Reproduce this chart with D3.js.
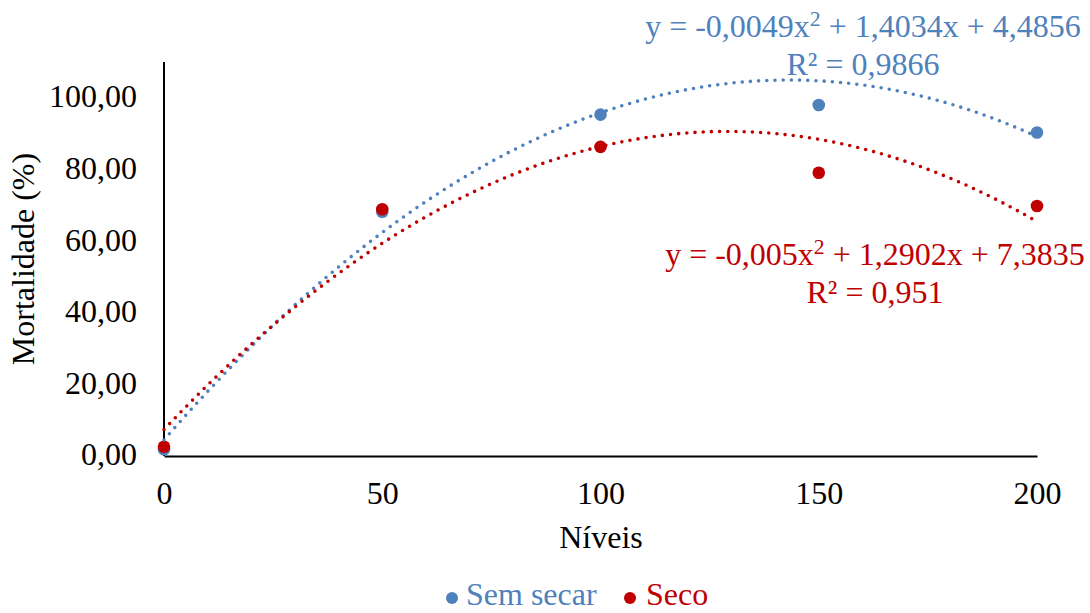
<!DOCTYPE html>
<html>
<head>
<meta charset="utf-8">
<script src="https://cdn.jsdelivr.net/npm/d3@7"></script>
<style>
  body{margin:0;background:#fff;}
  svg{display:block;}
</style>
</head>
<body>
<svg id="chart" width="1090" height="613"></svg>
<script>
// dados
var niveis = [0, 50, 100, 150, 200];
var semSecar = [1.9, 68.2, 95.3, 98.0, 90.3];
var seco = [2.6, 68.9, 86.3, 79.1, 69.8];
// coeficientes das linhas de tendencia (a*x^2 + b*x + c)
var coefSemSecar = [-0.0049, 1.4034, 4.4856];
var coefSeco = [-0.005, 1.2902, 7.3835];
var xTicks = [0, 50, 100, 150, 200];
var yTicks = [0, 20, 40, 60, 80, 100];
var seriesNames = ["Sem secar", "Seco"];

var azul = "#4f81bd";
var vermelho = "#c00000";
var fonte = "'Liberation Serif','Times New Roman',serif";
var fs = 32;

var svg = d3.select("#chart");

var x = d3.scaleLinear().domain([0, 200]).range([164, 1037]);
var y = d3.scaleLinear().domain([0, 110]).range([456, 62]);

// eixos (so as linhas, sem marcas)
var xAxis = svg.append("g")
  .attr("transform", "translate(0,456)")
  .call(d3.axisBottom(x).tickValues(xTicks).tickSize(0).tickPadding(25).tickFormat(d3.format("d")));
xAxis.select(".domain").attr("stroke", "#000").attr("stroke-width", 2);
xAxis.selectAll("text").attr("font-family", fonte).attr("font-size", fs).attr("fill", "#000");

var yAxis = svg.append("g")
  .attr("transform", "translate(164,0)")
  .call(d3.axisLeft(y).tickValues(yTicks).tickSize(0).tickPadding(27)
    .tickFormat(function(d){ return d3.format(".2f")(d).replace(".", ","); }));
yAxis.select(".domain").attr("stroke", "#000").attr("stroke-width", 2)
  .attr("d", "M0," + y(110) + "V" + y(0));
yAxis.selectAll("text").attr("font-family", fonte).attr("font-size", fs).attr("fill", "#000")
  .attr("dy", "0.28em");

// titulos dos eixos
svg.append("text")
  .attr("x", 601).attr("y", 548)
  .attr("text-anchor", "middle")
  .attr("font-family", fonte).attr("font-size", fs)
  .text("Níveis");

svg.append("text")
  .attr("transform", "translate(34,259) rotate(-90)")
  .attr("text-anchor", "middle")
  .attr("font-family", fonte).attr("font-size", fs)
  .text("Mortalidade (%)");

// pontos
function pontos(vals, cor){
  svg.append("g").selectAll("circle")
    .data(vals)
    .enter().append("circle")
    .attr("cx", function(d, i){ return x(niveis[i]); })
    .attr("cy", function(d){ return y(d); })
    .attr("r", 6.3)
    .attr("fill", cor);
}
pontos(semSecar, azul);
pontos(seco, vermelho);

// linhas de tendencia polinomiais
function tendencia(coef, cor){
  var xs = d3.range(0, 200.5, 1);
  var line = d3.line()
    .x(function(d){ return x(d); })
    .y(function(d){ return y(coef[0]*d*d + coef[1]*d + coef[2]); });
  svg.append("path")
    .datum(xs)
    .attr("d", line)
    .attr("fill", "none")
    .attr("stroke", cor)
    .attr("stroke-width", 3.6)
    .attr("stroke-linecap", "round")
    .attr("stroke-dasharray", "0 8.2");
}
tendencia(coefSemSecar, azul);
tendencia(coefSeco, vermelho);

// equacoes
function fmt(v){ return String(v).replace(".", ","); }
function equacao(coef, r2, cx, y1, y2, cor){
  var t = svg.append("text")
    .attr("x", cx).attr("y", y1)
    .attr("text-anchor", "middle")
    .attr("font-family", fonte).attr("font-size", fs)
    .attr("fill", cor);
  t.append("tspan").text("y = " + fmt(coef[0]) + "x");
  t.append("tspan").attr("font-size", fs*0.68).attr("dy", -11).text("2");
  t.append("tspan").attr("dy", 11).text(" + " + fmt(coef[1]) + "x + " + fmt(coef[2]));
  svg.append("text")
    .attr("x", cx).attr("y", y2)
    .attr("text-anchor", "middle")
    .attr("font-family", fonte).attr("font-size", fs)
    .attr("fill", cor)
    .text("R² = " + fmt(r2));
}
equacao(coefSemSecar, 0.9866, 863, 37, 75, azul);
equacao(coefSeco, 0.951, 875, 265, 303, vermelho);

// legenda
var legenda = [
  {nome: seriesNames[0], cor: azul, cx: 452, tx: 466},
  {nome: seriesNames[1], cor: vermelho, cx: 630, tx: 646}
];
var lg = svg.append("g").selectAll("g").data(legenda).enter().append("g");
lg.append("circle")
  .attr("cx", function(d){ return d.cx; })
  .attr("cy", 598)
  .attr("r", 6)
  .attr("fill", function(d){ return d.cor; });
lg.append("text")
  .attr("x", function(d){ return d.tx; })
  .attr("y", 605)
  .attr("font-family", fonte).attr("font-size", fs)
  .attr("fill", function(d){ return d.cor; })
  .text(function(d){ return d.nome; });
</script>
</body>
</html>
